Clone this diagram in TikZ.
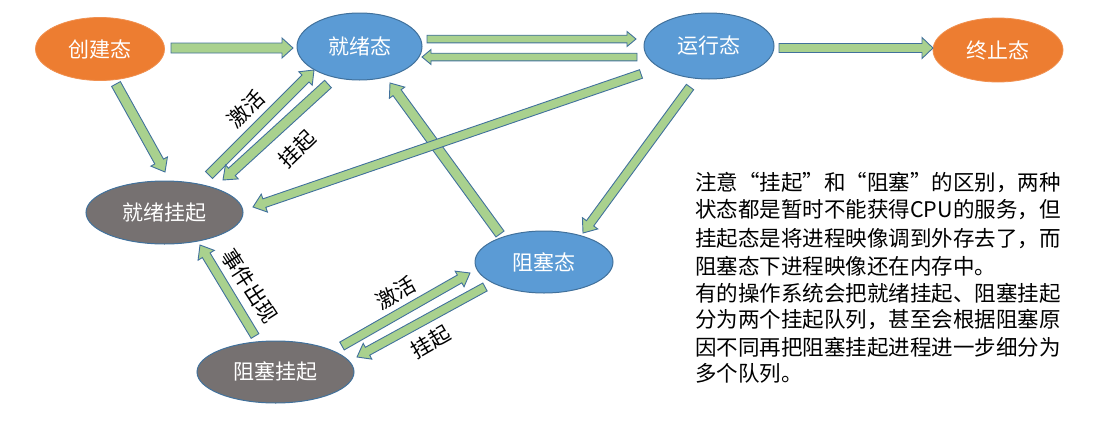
\documentclass[tikz,border=0pt]{standalone}
\usepackage{fontspec}
\setmainfont{Noto Sans CJK SC}
\usetikzlibrary{shapes.geometric,calc}
\definecolor{orng}{HTML}{ED7D31}
\definecolor{blu}{HTML}{5B9BD5}
\definecolor{bluedge}{HTML}{41719C}
\definecolor{gry}{HTML}{767171}
\definecolor{grn}{HTML}{A9D18E}
\tikzset{
  st/.style={ellipse, inner sep=0pt, text=white, font=\fontsize{21}{25}\selectfont},
  orst/.style={st, fill=orng, draw=orng!85!white, line width=0.8pt},
  blst/.style={st, fill=blu, draw=bluedge, line width=1pt},
  grst/.style={st, fill=gry, draw=bluedge, line width=1pt},
  barstyle/.style={fill=grn, draw=bluedge, line width=0.9pt, line join=miter},
  lbl/.style={font=\fontsize{21}{24}\selectfont, text=black, inner sep=0pt},
  note/.style={anchor=west, inner sep=0pt, font=\fontsize{21.5}{26}\selectfont, text=black}
}
% block arrow: #1 start, #2 end, #3 half shaft, #4 half head, #5 head length
\newcommand\barrow[5]{%
  \draw[barstyle] ($(#1)!#3!90:(#2)$) -- ($(#2)!#5!(#1)!#3!-90:(#1)$)
    -- ($(#2)!#5!(#1)!#4!-90:(#1)$) -- (#2)
    -- ($(#2)!#5!(#1)!#4!90:(#1)$) -- ($(#2)!#5!(#1)!#3!90:(#1)$)
    -- ($(#1)!#3!-90:(#2)$) -- cycle;}
\begin{document}
\begin{tikzpicture}[x=1pt,y=-1pt]
\useasboundingbox (0,0) rectangle (1119,423);
% states
\node[orst, minimum width=129pt, minimum height=63pt] (create) at (100,49) {创建态};
\node[blst, minimum width=125pt, minimum height=67pt] (ready) at (359.5,46.5) {就绪态};
\node[blst, minimum width=130pt, minimum height=66pt] (run) at (709,46) {运行态};
\node[orst, minimum width=130pt, minimum height=64pt] (term) at (998,50) {终止态};
\node[grst, minimum width=157pt, minimum height=63pt] (rsusp) at (164.5,212.5) {就绪挂起};
\node[blst, minimum width=138pt, minimum height=62pt] (block) at (544,262) {阻塞态};
\node[grst, minimum width=157pt, minimum height=62pt] (bsusp) at (275.5,372) {阻塞挂起};
% arrow end points
\coordinate (a1s) at (171,48);  \coordinate (a1e) at (293,48);
\coordinate (a2s) at (427,39);  \coordinate (a2e) at (636,39);
\coordinate (a3s) at (637,57);  \coordinate (a3e) at (422,57);
\coordinate (a4s) at (779,48);  \coordinate (a4e) at (933,48);
\coordinate (a5s) at (116,84);  \coordinate (a5e) at (165,172);
\coordinate (a6s) at (209,175); \coordinate (a6e) at (314,70);
\coordinate (a7s) at (328,84);  \coordinate (a7e) at (223,180);
\coordinate (a8s) at (641,74);  \coordinate (a8e) at (253,207);
\coordinate (a9s) at (500,234); \coordinate (a9e) at (390,83);
\coordinate (a10s) at (690,87); \coordinate (a10e) at (583,233);
\coordinate (a11s) at (255,336); \coordinate (a11e) at (200,245);
\coordinate (a12s) at (342,346); \coordinate (a12e) at (470,273);
\coordinate (a13s) at (485,287); \coordinate (a13e) at (357,357);
% arrows
\barrow{a1s}{a1e}{5pt}{10pt}{11pt}
\barrow{a2s}{a2e}{3.8pt}{7.5pt}{9pt}
\barrow{a3s}{a3e}{3.8pt}{7.5pt}{9pt}
\barrow{a4s}{a4e}{4.5pt}{10.5pt}{11pt}
\barrow{a5s}{a5e}{5pt}{9.5pt}{12pt}
\barrow{a6s}{a6e}{5pt}{9.5pt}{12pt}
\barrow{a7s}{a7e}{5pt}{9.5pt}{12pt}
\barrow{a9s}{a9e}{5pt}{9.5pt}{12pt}
\barrow{a8s}{a8e}{4.5pt}{9.5pt}{12pt}
\barrow{a10s}{a10e}{4.5pt}{9.5pt}{12pt}
\barrow{a11s}{a11e}{4.5pt}{9.5pt}{12pt}
\barrow{a12s}{a12e}{4.5pt}{9pt}{12pt}
\barrow{a13s}{a13e}{4.5pt}{9pt}{12pt}
% labels
\node[lbl, rotate=44] (l1) at (246,109) {激活};
\node[lbl, rotate=44] (l2) at (297,149) {挂起};
\node[lbl, rotate=-57] (l3) at (250,286) {事件出现};
\node[lbl, rotate=29] (l4) at (396,293) {激活};
\node[lbl, rotate=30] (l5) at (431,342) {挂起};
% note
\node[note] (n1) at (695,183) {注意“挂起”和“阻塞”的区别，两种};
\node[note] (n2) at (695,210) {状态都是暂时不能获得CPU的服务，但};
\node[note] (n3) at (695,239) {挂起态是将进程映像调到外存去了，而};
\node[note] (n4) at (695,266) {阻塞态下进程映像还在内存中。};
\node[note] (n5) at (695,293) {有的操作系统会把就绪挂起、阻塞挂起};
\node[note] (n6) at (695,320) {分为两个挂起队列，甚至会根据阻塞原};
\node[note] (n7) at (695,347) {因不同再把阻塞挂起进程进一步细分为};
\node[note] (n8) at (695,373) {多个队列。};
\end{tikzpicture}
\end{document}
